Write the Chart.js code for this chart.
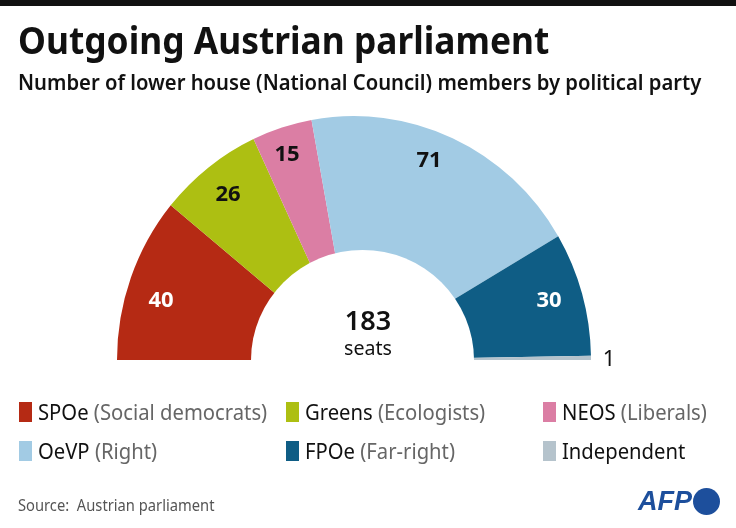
<!DOCTYPE html>
<html>
<head>
<meta charset="utf-8">
<title>Outgoing Austrian parliament</title>
<script src="https://cdn.jsdelivr.net/npm/chart.js@4"></script>
<style>
    html, body { margin: 0; padding: 0; background: #fff; }
    body { position: relative; width: 736px; height: 528px; overflow: hidden; font-family: 'Noto Sans', sans-serif; color: #111; }
    canvas { position: absolute; left: 0; top: 0; }
    .txt { position: absolute; white-space: nowrap; line-height: 1; transform-origin: left center; }
    #topbar { position: absolute; left: 0; top: 0; width: 736px; height: 6px; background: #111; }
    #title { left: 18px; top: 20px; font-size: 38px; font-weight: 700; transform: scaleX(0.93); }
    #subtitle { left: 18px; top: 70px; font-size: 22px; font-weight: 600; transform: scaleX(0.92); }
    #total { left: 318px; width: 100px; top: 306px; text-align: center; font-size: 27px; font-weight: 600; }
    #totalUnit { left: 318px; width: 100px; top: 338px; text-align: center; font-size: 20px; transform: scaleX(0.98); transform-origin: center; }
    .swatch { position: absolute; width: 13px; height: 20px; }
    .legendText { font-size: 22px; transform: scaleX(0.92); margin-top: -2px; }
    .legendText span { color: #666; }
    #source { left: 18px; top: 497px; font-size: 16px; color: #555; transform: scaleX(0.92); }
    #afp { left: 638px; top: 488px; font-size: 27px; font-weight: 700; font-style: italic; color: #1d4f9c; font-family: 'Liberation Sans', sans-serif; }
    #afpDot { position: absolute; left: 693px; top: 488px; width: 27px; height: 27px; border-radius: 50%; background: #1d4f9c; }
</style>
</head>
<body>
<canvas id="seatChart" width="736" height="528"></canvas>
<div id="topbar"></div>
<div class="txt" id="title">Outgoing Austrian parliament</div>
<div class="txt" id="subtitle">Number of lower house (National Council) members by political party</div>
<div class="txt" id="total">183</div>
<div class="txt" id="totalUnit">seats</div>
<div id="legend"></div>
<div class="txt" id="source">Source:&nbsp; Austrian parliament</div>
<div class="txt" id="afp">AFP</div>
<div id="afpDot"></div>

<script>
const parties = ['SPOe', 'Greens', 'NEOS', 'OeVP', 'FPOe', 'Independent'];
const descriptions = ['(Social democrats)', '(Ecologists)', '(Liberals)', '(Right)', '(Far-right)', ''];
const seats = [40, 26, 15, 71, 30, 1];
const colors = ['#b52a14', '#adbf12', '#db7ea4', '#a2cbe4', '#0f5d85', '#b5c3cc'];

// where the seat numbers sit on the picture
const labelSpots = [[161, 301], [228, 195], [287, 155], [429, 161], [549, 301], [609, 360]];
const labelColors = ['#fff', '#111', '#111', '#111', '#fff', '#111'];

// legend, three columns over two rows
const legendX = [19, 286, 543];
const legendY = [402, 441];
const legend = document.getElementById('legend');
legend.innerHTML = parties.map((p, i) => {
    const x = legendX[i % 3], y = legendY[Math.floor(i / 3)];
    return `<div class="swatch" style="left:${x}px;top:${y}px;background:${colors[i]}"></div>
        <div class="txt legendText" style="left:${x + 19}px;top:${y}px">${p} <span>${descriptions[i]}</span></div>`;
}).join('');

// the reference arch is a little taller than wide
const archStretch = {
    id: 'archStretch',
    beforeDatasetsDraw(chart) {
        const arc = chart.getDatasetMeta(0).data[0];
        const ctx = chart.ctx;
        ctx.save();
        ctx.translate(arc.x, arc.y);
        ctx.scale(1, 244 / 237);
        ctx.translate(-arc.x, -arc.y);
    },
    afterDatasetsDraw(chart) {
        chart.ctx.restore();
    }
};

// hole of the arch sits slightly right of the pie centre, plus the seat numbers
const archHole = {
    id: 'archHole',
    afterDraw(chart) {
        const ctx = chart.ctx;
        ctx.save();
        ctx.fillStyle = '#fff';
        ctx.beginPath();
        ctx.ellipse(362.5, 360, 111.5, 110, 0, 0, Math.PI * 2);
        ctx.fill();
        ctx.textAlign = 'center';
        ctx.textBaseline = 'middle';
        seats.forEach((v, i) => {
            ctx.font = (i === 5 ? '400 22px' : '700 22px') + " 'Noto Sans', sans-serif";
            ctx.fillStyle = labelColors[i];
            ctx.fillText(String(v), labelSpots[i][0], labelSpots[i][1]);
        });
        ctx.restore();
    }
};

new Chart(document.getElementById('seatChart'), {
    type: 'pie',
    data: {
        labels: parties,
        datasets: [{ data: seats, backgroundColor: colors, borderWidth: 0 }]
    },
    options: {
        responsive: false,
        animation: false,
        rotation: -90,
        circumference: 180,
        layout: { padding: { left: 117, right: 145, top: 123, bottom: 168 } },
        plugins: { legend: { display: false }, tooltip: { enabled: false } }
    },
    plugins: [archStretch, archHole]
});
</script>
</body>
</html>
